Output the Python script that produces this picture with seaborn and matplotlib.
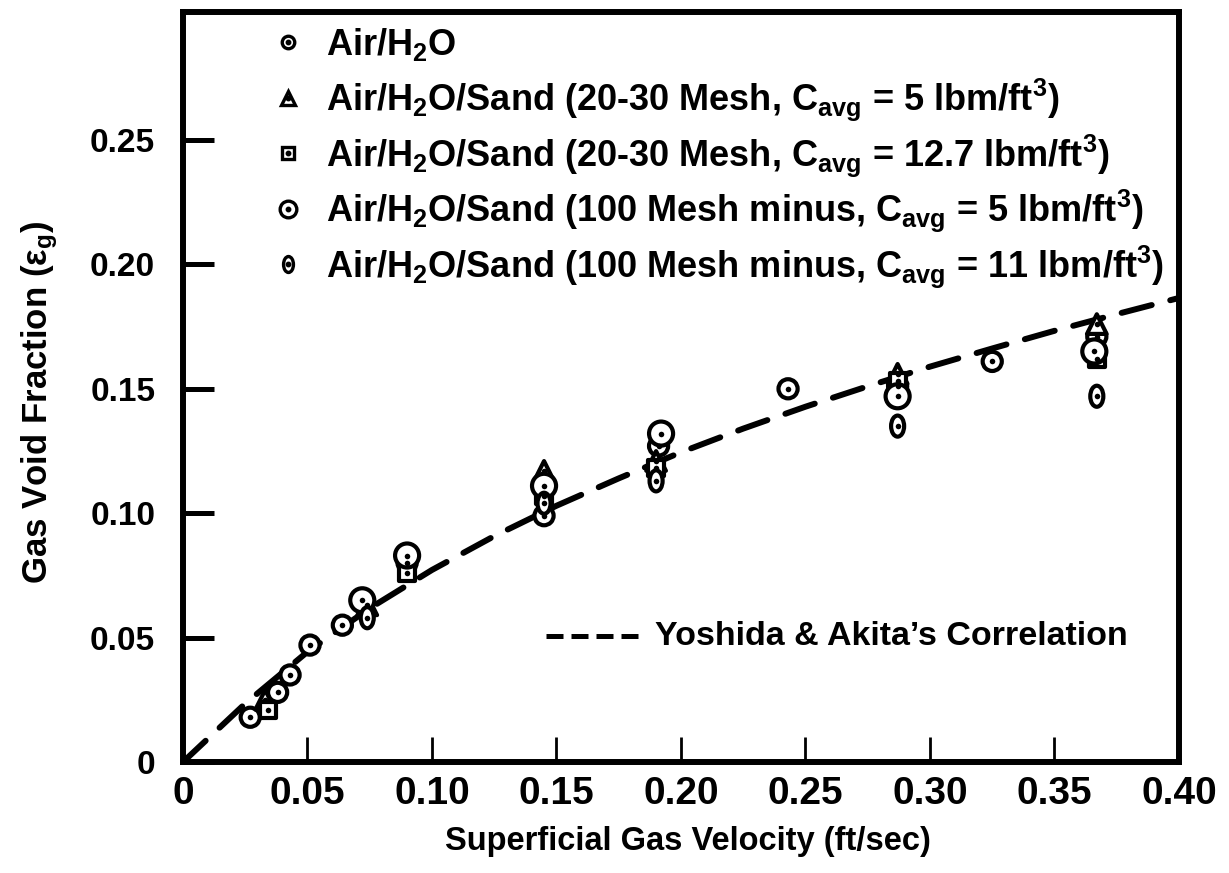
import matplotlib
matplotlib.use("Agg")
import matplotlib.pyplot as plt
import numpy as np
import pandas as pd
import seaborn as sns
from matplotlib.path import Path
from matplotlib.transforms import Affine2D

# ---------------------------------------------------------------- data
series_labels = [
    r"Air/H$_2$O",
    r"Air/H$_2$O/Sand (20-30 Mesh, C$_{avg}$ = 5 lbm/ft$^3$)",
    r"Air/H$_2$O/Sand (20-30 Mesh, C$_{avg}$ = 12.7 lbm/ft$^3$)",
    r"Air/H$_2$O/Sand (100 Mesh minus, C$_{avg}$ = 5 lbm/ft$^3$)",
    r"Air/H$_2$O/Sand (100 Mesh minus, C$_{avg}$ = 11 lbm/ft$^3$)",
]

air_h2o_u = [0.027, 0.038, 0.043, 0.051, 0.064, 0.090, 0.145, 0.191, 0.243, 0.287, 0.325, 0.367]
air_h2o_eps = [0.018, 0.028, 0.035, 0.047, 0.055, 0.080, 0.099, 0.127, 0.150, 0.151, 0.161, 0.171]

sand_20_30_c5_u = [0.033, 0.074, 0.145, 0.190, 0.287, 0.367]
sand_20_30_c5_eps = [0.025, 0.063, 0.117, 0.121, 0.156, 0.176]

sand_20_30_c127_u = [0.034, 0.090, 0.145, 0.190, 0.287, 0.367]
sand_20_30_c127_eps = [0.021, 0.076, 0.107, 0.118, 0.153, 0.162]

sand_100_c5_u = [0.072, 0.090, 0.145, 0.192, 0.287, 0.366]
sand_100_c5_eps = [0.065, 0.083, 0.111, 0.132, 0.147, 0.165]

sand_100_c11_u = [0.074, 0.145, 0.190, 0.287, 0.367]
sand_100_c11_eps = [0.058, 0.104, 0.113, 0.135, 0.147]

# Yoshida & Akita correlation curve
corr_u = [0.0, 0.025, 0.05, 0.075, 0.10, 0.125, 0.15, 0.175, 0.20, 0.225,
          0.25, 0.275, 0.30, 0.325, 0.35, 0.375, 0.40]
corr_eps = [0.0, 0.0235, 0.0443, 0.0618, 0.0772, 0.0908, 0.1030, 0.1140, 0.1245,
            0.1340, 0.1428, 0.1510, 0.1589, 0.1662, 0.1733, 0.1800, 0.1865]
corr_label = "Yoshida & Akita\u2019s Correlation"

x_ticks = [0.0, 0.05, 0.10, 0.15, 0.20, 0.25, 0.30, 0.35, 0.40]
x_tick_labels = ["0", "0.05", "0.10", "0.15", "0.20", "0.25", "0.30", "0.35", "0.40"]
y_ticks = [0.0, 0.05, 0.10, 0.15, 0.20, 0.25]
y_tick_labels = ["0", "0.05", "0.10", "0.15", "0.20", "0.25"]

x_label = "Superficial Gas Velocity (ft/sec)"
y_label = r"Gas Void Fraction ($\epsilon_g$)"

# ---------------------------------------------------------------- style
sns.set_theme(style="white")
FONT = ["Liberation Sans", "DejaVu Sans"]
plt.rcParams["font.family"] = FONT
plt.rcParams["font.weight"] = "bold"
plt.rcParams["mathtext.default"] = "regular"
for key in ("text.color", "axes.labelcolor", "xtick.color", "ytick.color",
            "axes.edgecolor"):
    plt.rcParams[key] = "black"

df = pd.concat([
    pd.DataFrame({"u": u, "eps": e, "series": lab})
    for u, e, lab in [
        (air_h2o_u, air_h2o_eps, series_labels[0]),
        (sand_20_30_c5_u, sand_20_30_c5_eps, series_labels[1]),
        (sand_20_30_c127_u, sand_20_30_c127_eps, series_labels[2]),
        (sand_100_c5_u, sand_100_c5_eps, series_labels[3]),
        (sand_100_c11_u, sand_100_c11_eps, series_labels[4]),
    ]
], ignore_index=True)

# narrow upright ellipse marker for the 100-mesh / 11 lbm series
lens = Path.unit_circle().transformed(Affine2D().scale(0.62, 1.0))

marker_map = dict(zip(series_labels, ["o", "^", "s", "o", lens]))
size_map = dict(zip(series_labels, [190, 200, 130, 300, 230]))
legend_ms = [9, 10.5, 8.5, 12, 11.5]

fig = plt.figure(figsize=(12.29, 8.73), dpi=100)
ax = fig.add_axes([0.1489, 0.1271, 0.8104, 0.8591])

# correlation curve
sns.lineplot(x=corr_u, y=corr_eps, ax=ax, color="black", linewidth=4.3,
             legend=False, zorder=2)
corr_line = ax.lines[-1]
corr_line.set_dashes((5.2, 3.2))
corr_line.set_dash_capstyle("round")

# hollow markers
sns.scatterplot(data=df, x="u", y="eps", style="series", markers=marker_map,
                size="series", sizes=size_map, color="white",
                edgecolor="black", linewidth=3.0, legend=False, ax=ax, zorder=3)
# centre dots
sns.scatterplot(data=df, x="u", y="eps", color="black", s=16, linewidth=0,
                marker="o", legend=False, ax=ax, zorder=4)

ax.set_xlim(0, 0.40)
ax.set_ylim(0, 0.3014)
ax.set_xticks(x_ticks)
ax.set_xticklabels(x_tick_labels, fontsize=28, fontweight="bold")
ax.set_yticks(y_ticks)
ax.set_yticklabels(y_tick_labels, fontsize=24, fontweight="bold")
ax.tick_params(axis="y", direction="in", length=22, width=3.6, pad=20, left=True)
ax.tick_params(axis="x", direction="in", length=18, width=2.0, pad=10, bottom=True)
for s in ax.spines.values():
    s.set_visible(True)
    s.set_color("black")
    s.set_linewidth(4.3)

ax.set_xlabel(x_label, fontsize=23.5, fontweight="bold")
ax.xaxis.set_label_coords(0.507, -0.106)
ax.xaxis.label.set_va("center")
ax.set_ylabel(y_label, fontsize=25, fontweight="bold")
ax.yaxis.set_label_coords(-0.1436, 0.48)
ax.yaxis.label.set_va("center")

# marker key, upper left
key_marker_x = 0.1054
key_text_x = 0.1436
row_top = 0.960
row_step = 0.074
for i, lab in enumerate(series_labels):
    y = row_top - i * row_step
    m = marker_map[lab]
    ax.plot([key_marker_x], [y], marker=m, markersize=legend_ms[i],
            markerfacecolor="white", markeredgecolor="black", markeredgewidth=2.4,
            linestyle="none", transform=ax.transAxes, clip_on=False, zorder=5)
    ax.plot([key_marker_x], [y], marker="o", markersize=3.2, color="black",
            linestyle="none", transform=ax.transAxes, clip_on=False, zorder=6)
    ax.text(key_text_x, y - 0.0172, lab, transform=ax.transAxes, fontsize=26,
            fontweight="bold", va="baseline", ha="left")

# correlation key
ax.plot([0.364, 0.459], [0.1676, 0.1676], color="black", linewidth=3.6,
        dashes=(3.4, 1.6), transform=ax.transAxes)
ax.text(0.474, 0.1676, corr_label, transform=ax.transAxes, fontsize=24.5,
        fontweight="bold", va="center", ha="left")

fig.savefig("out.png", dpi=100)
